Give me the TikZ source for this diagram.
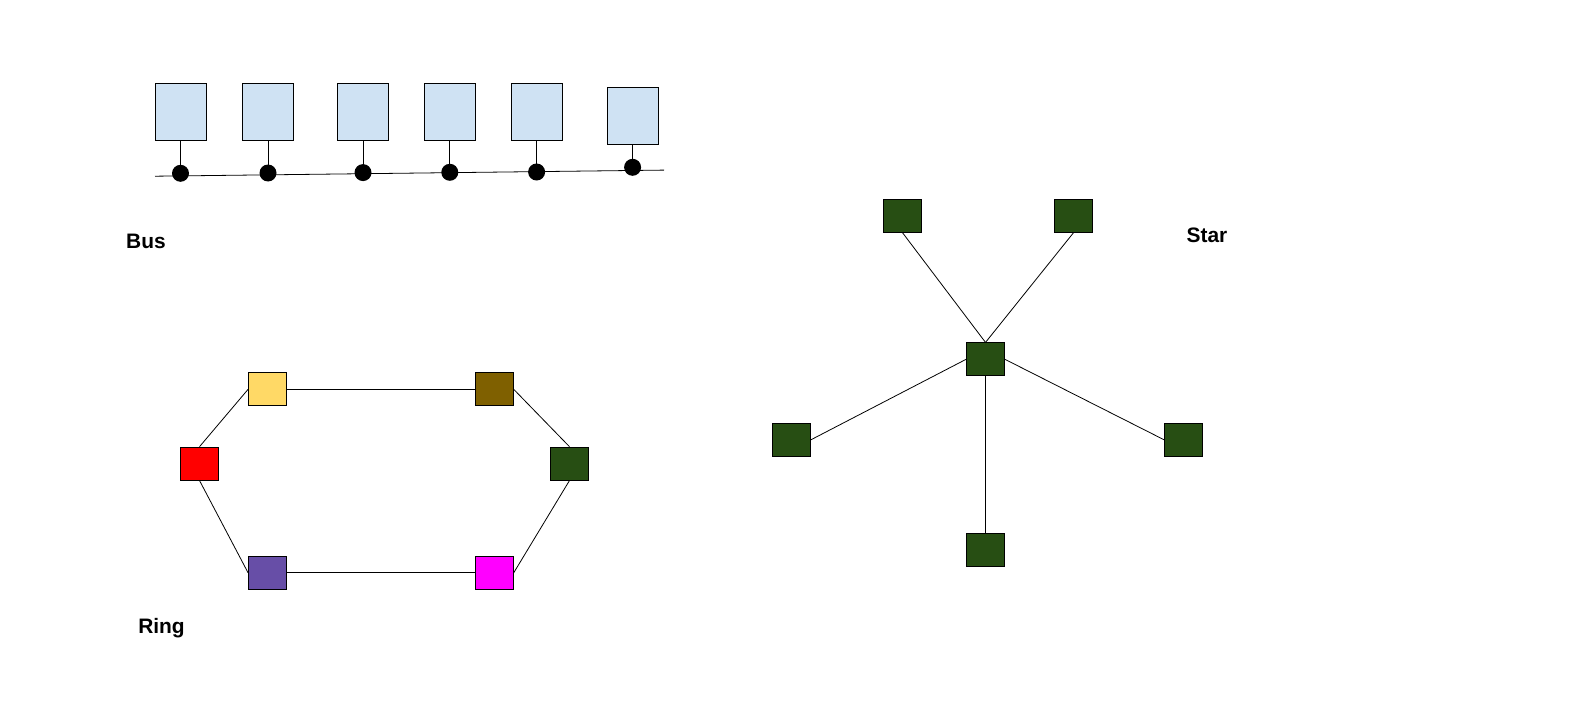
\documentclass[tikz,border=0pt]{standalone}
\usepackage{fontspec}
\setmainfont{Liberation Sans}
\begin{document}
\begin{tikzpicture}[x=1bp,y=-1bp,line width=0.8pt,
  busbox/.style={draw=black,fill=busblue,minimum width=51bp,minimum height=57bp,inner sep=0pt},
  dev/.style={draw=black,fill=#1,minimum width=38bp,minimum height=33bp,inner sep=0pt},
  tap/.style={circle,fill=black,minimum size=17bp,inner sep=0pt},
  title/.style={font=\fontsize{21}{25}\selectfont\bfseries,anchor=base,inner sep=0pt},
  link/.style={draw=black,line width=0.8pt}]
\definecolor{busblue}{HTML}{CFE2F3}
\definecolor{ryellow}{HTML}{FFD966}
\definecolor{rbrown}{HTML}{7F6000}
\definecolor{rgreen}{HTML}{274E13}
\definecolor{rpurple}{HTML}{674EA7}
\definecolor{rmagenta}{HTML}{FF00FF}
\fill[white] (0,0) rectangle (1583,718);
\useasboundingbox (0,0) rectangle (1583,718);

% ---- Bus topology ----
\coordinate (busL) at (155,176.2);
\coordinate (busR) at (664,170.1);
\draw[link] (busL) -- (busR);
\foreach \i/\x/\by/\dy in {1/180.5/111.5/173.3, 2/268/111.5/173.0, 3/363/111.5/172.6,
                           4/449.8/111.5/172.3, 5/536.6/111.5/172.0, 6/632.6/115.5/167.3}{
  \node[busbox] (b\i) at (\x,\by) {};
  \node[tap] (t\i) at (\x,\dy) {};
  \draw[link] (b\i.south) -- (t\i.center);
}
\node[title] (busT) at (146,248.3) {Bus};

% ---- Ring topology ----
\node[dev=ryellow] (ry) at (267.5,389.3) {};
\node[dev=rbrown] (rb) at (494.3,389.3) {};
\node[dev=red] (rr) at (199.5,463.6) {};
\node[dev=rgreen] (rg) at (569.5,463.6) {};
\node[dev=rpurple] (rp) at (267.5,572.8) {};
\node[dev=rmagenta] (rm) at (494.3,572.8) {};
\draw[link] (ry.east) -- (rb.west);
\draw[link] (rb.east) -- (rg.north);
\draw[link] (rg.south) -- (rm.east);
\draw[link] (rm.west) -- (rp.east);
\draw[link] (rp.west) -- (rr.south);
\draw[link] (rr.north) -- (ry.west);
\node[title] (ringT) at (161.5,633) {Ring};

% ---- Star topology ----
\node[dev=rgreen] (sc) at (985.5,359.3) {};
\node[dev=rgreen] (stl) at (902.5,215.8) {};
\node[dev=rgreen] (str) at (1073.5,215.8) {};
\node[dev=rgreen] (sl) at (791.5,439.8) {};
\node[dev=rgreen] (sr) at (1183.5,439.8) {};
\node[dev=rgreen] (sb) at (985.5,549.8) {};
\draw[link] (stl.south) -- (sc.north);
\draw[link] (str.south) -- (sc.north);
\draw[link] (sl.east) -- (sc.west);
\draw[link] (sc.east) -- (sr.west);
\draw[link] (sc.south) -- (sb.north);
\node[title] (starT) at (1207,242.7) {Star};
\end{tikzpicture}
\end{document}
